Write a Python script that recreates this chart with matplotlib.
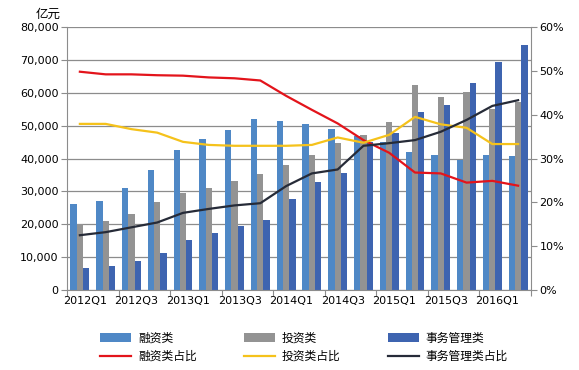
import numpy as np
import matplotlib
matplotlib.use('Agg')
import matplotlib.pyplot as plt
from matplotlib.ticker import FuncFormatter, MultipleLocator

plt.rcParams['font.family'] = ['DejaVu Sans', 'Noto Sans CJK SC']

# quarters 2012Q1 - 2016Q2
quarters = ['2012Q1', '2012Q2', '2012Q3', '2012Q4', '2013Q1', '2013Q2', '2013Q3', '2013Q4',
            '2014Q1', '2014Q2', '2014Q3', '2014Q4', '2015Q1', '2015Q2', '2015Q3', '2015Q4',
            '2016Q1', '2016Q2']

# bar values (亿元)
financing = [26200, 27100, 31000, 36500, 42600, 45900, 48700, 52000,
             51400, 50500, 49000, 46800, 45100, 42000, 41100, 39500, 41100, 40800]
investment = [20000, 21000, 23100, 26800, 29500, 31000, 33200, 35300,
              38000, 41100, 44700, 47100, 51100, 62400, 58600, 60200, 55100, 57200]
management = [6700, 7300, 8800, 11300, 15200, 17300, 19500, 21300,
              27700, 32900, 35700, 45100, 47900, 54200, 56300, 63100, 69500, 74500]

# share lines (%)
financing_pct = [49.8, 49.2, 49.2, 49.0, 48.9, 48.5, 48.3, 47.8,
                 44.3, 41.1, 38.0, 34.2, 31.3, 26.8, 26.6, 24.5, 24.9, 23.8]
investment_pct = [37.9, 37.9, 36.7, 35.9, 33.8, 33.1, 32.9, 32.9,
                  32.9, 33.1, 34.8, 33.6, 35.4, 39.5, 37.8, 37.0, 33.3, 33.3]
management_pct = [12.5, 13.2, 14.3, 15.4, 17.6, 18.5, 19.3, 19.8,
                  23.7, 26.6, 27.5, 32.9, 33.5, 34.2, 36.1, 38.8, 42.0, 43.3]

c_fin = '#4F88C6'
c_inv = '#939393'
c_man = '#3E64B0'

fig = plt.figure(figsize=(5.79, 3.70), dpi=100)
ax = fig.add_axes([0.1157, 0.2162, 0.8014, 0.7108])
ax2 = ax.twinx()

x = np.arange(len(quarters))
w = 0.245
b1 = ax.bar(x - w, financing, w, color=c_fin, label='融资类', zorder=2)
b2 = ax.bar(x, investment, w, color=c_inv, label='投资类', zorder=2)
b3 = ax.bar(x + w, management, w, color=c_man, label='事务管理类', zorder=2)

l1, = ax2.plot(x, financing_pct, color='#E3141B', lw=1.6, label='融资类占比')
l2, = ax2.plot(x, investment_pct, color='#F5C21B', lw=1.6, label='投资类占比')
l3, = ax2.plot(x, management_pct, color='#262B38', lw=1.6, label='事务管理类占比')

ax.set_xlim(-0.5, len(quarters) - 0.5)
ax.set_ylim(0, 80000)
ax.yaxis.set_major_locator(MultipleLocator(10000))
ax.yaxis.set_major_formatter(FuncFormatter(lambda v, p: f'{int(v):,}'))
ax2.set_ylim(0, 60)
ax2.yaxis.set_major_locator(MultipleLocator(10))
ax2.yaxis.set_major_formatter(FuncFormatter(lambda v, p: f'{int(v)}%'))

ax.grid(axis='y', color='#8C8C8C', lw=0.9, zorder=0)
ax.set_axisbelow(True)

# x ticks at every second category boundary, labels on categories 0,2,4...
ax.set_xticks(np.arange(-0.5, len(quarters), 2))
ax.set_xticklabels([])
ax.set_xticks(x[::2] + 0.2, minor=True)
ax.set_xticklabels(quarters[::2], minor=True, fontsize=8)
ax.tick_params(axis='x', which='minor', length=0, pad=4)
ax.tick_params(axis='x', which='major', length=4, color='#8C8C8C')
ax.tick_params(axis='y', labelsize=8, length=4, color='#8C8C8C', pad=2)
ax2.tick_params(axis='y', labelsize=8, length=4, color='#8C8C8C', pad=2)

for a in (ax, ax2):
    for s in a.spines.values():
        s.set_visible(False)
ax.spines['left'].set_visible(True)
ax.spines['left'].set_color('#8C8C8C')
ax.spines['bottom'].set_visible(True)
ax.spines['bottom'].set_color('#8C8C8C')
ax2.spines['right'].set_visible(True)
ax2.spines['right'].set_color('#8C8C8C')

fig.text(0.062, 0.962, '亿元', fontsize=9, family=['Noto Sans CJK SC'], va='center')

handles = [b1, l1, b2, l2, b3, l3]
labels = [h.get_label() for h in handles]
leg = fig.legend(handles, labels, ncol=3, loc='lower left', bbox_to_anchor=(0.155, -0.01),
                 frameon=False, prop={'family': 'Noto Sans CJK SC', 'size': 8.5},
                 handlelength=2.6, handleheight=0.7, columnspacing=4.0, handletextpad=0.6,
                 labelspacing=0.45)

fig.savefig('out.png', dpi=100)
